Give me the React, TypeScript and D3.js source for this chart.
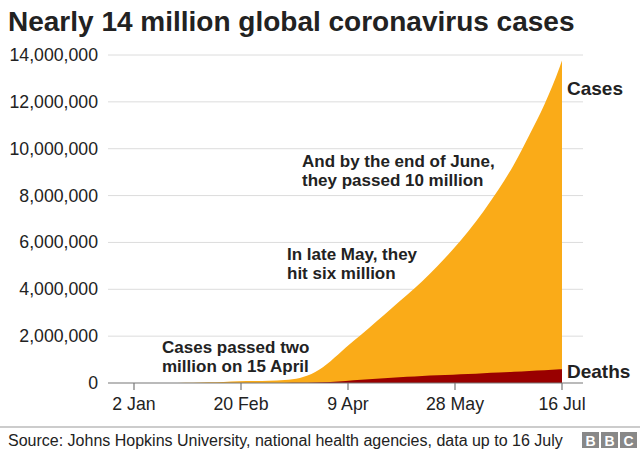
import * as React from 'react';
import * as d3 from 'd3';

// Cumulative global totals (JHU), sampled weekly
const dates = [
  '2020-01-22', '2020-01-29', '2020-02-05', '2020-02-12', '2020-02-19', '2020-02-26',
  '2020-03-04', '2020-03-11', '2020-03-18', '2020-03-25', '2020-04-01', '2020-04-08',
  '2020-04-15', '2020-04-22', '2020-04-29', '2020-05-06', '2020-05-13', '2020-05-20',
  '2020-05-27', '2020-06-03', '2020-06-10', '2020-06-17', '2020-06-24', '2020-07-01',
  '2020-07-08', '2020-07-15', '2020-07-16',
];

const cases = [
  555, 6166, 28276, 45170, 75641, 81395,
  95124, 126214, 214910, 467653, 932605, 1513358,
  2056055, 2623231, 3193886, 3755341, 4347015, 4997472,
  5696346, 6471450, 7325440, 8270000, 9330000, 10580000,
  11900000, 13500000, 13760000,
];

const deaths = [
  17, 132, 565, 1117, 2122, 2770,
  3300, 4630, 8800, 22000, 47000, 88500,
  134000, 184000, 228000, 263000, 298000, 328000,
  355000, 385000, 420000, 447000, 480000, 515000,
  545000, 582000, 590000,
];

const yTicks = [0, 2000000, 4000000, 6000000, 8000000, 10000000, 12000000, 14000000];
const xTicks = ['2020-01-02', '2020-02-20', '2020-04-09', '2020-05-28', '2020-07-16'];
const xTickLabels = ['2 Jan', '20 Feb', '9 Apr', '28 May', '16 Jul'];

const annotations = [
  { lines: ['And by the end of June,', 'they passed 10 million'], x: 302, y: 167 },
  { lines: ['In late May, they', 'hit six million'], x: 287, y: 260 },
  { lines: ['Cases passed two', 'million on 15 April'], x: 162, y: 353 },
];

const FONT = '"Liberation Sans", Arial, Helvetica, sans-serif';
const INK = '#222222';

export default function App() {
  const parse = d3.utcParse('%Y-%m-%d');
  const rows = dates.map((d, i) => ({ date: parse(d)!, cases: cases[i], deaths: deaths[i] }));

  const x = d3.scaleUtc()
    .domain([parse(xTicks[0])!, parse(xTicks[xTicks.length - 1])!])
    .range([134, 562]);
  const y = d3.scaleLinear().domain([0, 14000000]).range([383, 55]);

  const gridLeft = 108;
  const gridRight = 583;

  const casesArea = d3.area<typeof rows[number]>()
    .x((d) => x(d.date))
    .y0(y(0))
    .y1((d) => y(d.cases))
    .curve(d3.curveMonotoneX);

  const deathsArea = d3.area<typeof rows[number]>()
    .x((d) => x(d.date))
    .y0(y(0))
    .y1((d) => y(d.deaths))
    .curve(d3.curveMonotoneX);

  const fmt = d3.format(',');

  return (
    <svg
      width={640}
      height={450}
      style={{ position: 'absolute', left: 0, top: 0, background: '#fff' }}
      fontFamily={FONT}
    >
      <text x={8} y={31} fontSize={28} fontWeight={700} fill={INK}>
        Nearly 14 million global coronavirus cases
      </text>

      {/* gridlines + y labels */}
      {yTicks.map((t) => (
        <g key={t}>
          {t > 0 && (
            <line x1={gridLeft} x2={gridRight} y1={y(t)} y2={y(t)} stroke="#dcdcdc" strokeWidth={1} />
          )}
          <text x={98} y={y(t) + 6} textAnchor="end" fontSize={17.7} fill={INK}>
            {fmt(t)}
          </text>
        </g>
      ))}

      <path d={casesArea(rows) || ''} fill="#FAAB18" />
      <path d={deathsArea(rows) || ''} fill="#990000" />

      {/* baseline + x ticks */}
      <line x1={gridLeft} x2={gridRight} y1={y(0)} y2={y(0)} stroke="#777" strokeWidth={1.2} />
      {xTicks.map((t, i) => {
        const px = x(parse(t)!);
        return (
          <g key={t}>
            <line x1={px} x2={px} y1={y(0)} y2={y(0) + 7} stroke="#777" strokeWidth={1.2} />
            <text x={px} y={410} textAnchor="middle" fontSize={17.7} fill={INK}>
              {xTickLabels[i]}
            </text>
          </g>
        );
      })}

      {/* annotations */}
      {annotations.map((a, i) => (
        <text key={i} fontSize={17} fontWeight={700} fill={INK}>
          {a.lines.map((l, j) => (
            <tspan key={j} x={a.x} y={a.y + j * 19}>{l}</tspan>
          ))}
        </text>
      ))}

      <text x={567} y={95} fontSize={19} fontWeight={700} fill={INK}>Cases</text>
      <text x={567} y={378} fontSize={19} fontWeight={700} fill={INK}>Deaths</text>

      {/* footer */}
      <line x1={0} x2={640} y1={427} y2={427} stroke="#999" strokeWidth={1} />
      <text x={8} y={446} fontSize={16} fill={INK}>
        Source: Johns Hopkins University, national health agencies, data up to 16 July
      </text>
      {['B', 'B', 'C'].map((c, i) => (
        <g key={i}>
          <rect x={582 + i * 19} y={432} width={17} height={16} fill="#888" />
          <text x={582 + i * 19 + 8.5} y={445.5} textAnchor="middle" fontSize={14} fontWeight={700} fill="#fff">
            {c}
          </text>
        </g>
      ))}
    </svg>
  );
}
